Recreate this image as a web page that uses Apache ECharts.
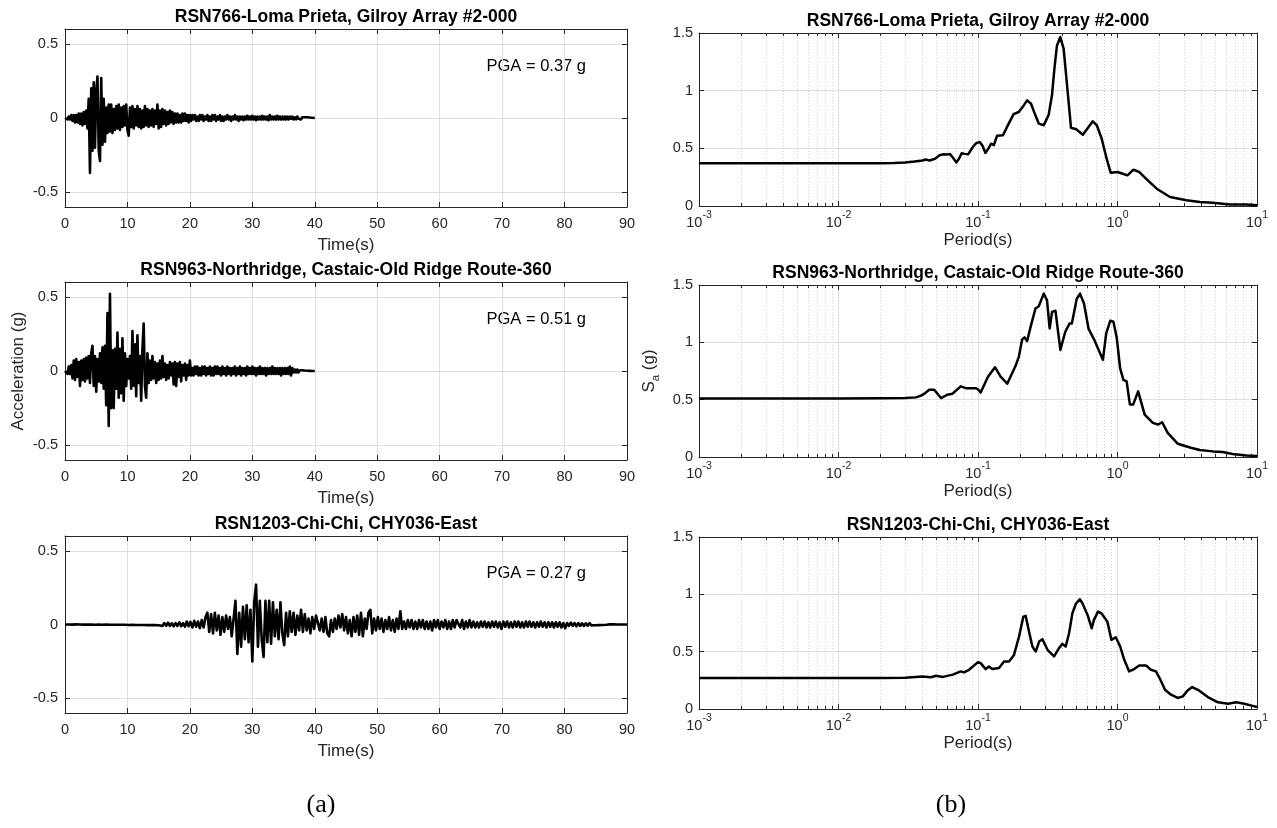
<!DOCTYPE html>
<html><head><meta charset="utf-8">
<script src="https://cdn.jsdelivr.net/npm/echarts@6/dist/echarts.min.js"></script>
<style>html,body{margin:0;padding:0;background:#fff}#c{width:1277px;height:828px}</style>
</head><body><div id="c"></div>
<script>
// ---------------- DATA ----------------
const TITLES = [
  'RSN766-Loma Prieta, Gilroy Array #2-000',
  'RSN963-Northridge, Castaic-Old Ridge Route-360',
  'RSN1203-Chi-Chi, CHY036-East'
];
const PGA_LABELS = ['PGA = 0.37 g', 'PGA = 0.51 g', 'PGA = 0.27 g'];
const PANEL_LABELS = ['(a)', '(b)'];
const TIME_TICKS = [0, 10, 20, 30, 40, 50, 60, 70, 80, 90];
const ACC_TICKS = [-0.5, 0, 0.5];
const SA_TICKS = [0, 0.5, 1, 1.5];
const PERIOD_DECADES = [0.001, 0.01, 0.1, 1, 10];
const MINOR_MULT = [2, 3, 4, 5, 6, 7, 8, 9];
const TIME_STEP = [0.2, 0.2, 0.3];

// acceleration records (g), sampled every TIME_STEP seconds
const ACC_LOMA = [0,.01,-.01,.01,-.01,.02,-.02,.02,-.03,.02,-.03,
 .03,-.04,.03,-.05,.04,-.04,.05,-.07,.13,
 -.37,.2,-.22,.24,-.2,.18,.28,-.22,-.29,.27,-.18,.13,-.16,.07,-.1,.09,-.09,.09,-.1,.06,-.08,
 .08,-.07,.09,-.08,.07,-.06,.08,-.05,.09,-.08,
 -.12,.07,-.06,.08,-.07,.06,-.05,.08,-.06,.06,
 -.07,.05,-.06,.08,-.05,.06,-.06,.05,-.05,.06,
 -.06,.05,-.04,.09,-.07,.05,-.06,.06,-.04,.05,
 -.05,.04,-.04,.05,-.03,.04,-.04,.03,-.03,.03,
 -.03,.02,-.03,.03,-.02,.03,-.02,.02,-.03,.02,
 -.02,.02,-.01,.02,-.02,.01,-.02,.02,-.01,.02,-.02,.01,-.01,.02,-.02,.01,-.02,.02,-.01,.02,
 -.02,.01,-.01,.02,-.02,.01,-.02,.01,-.01,.02,-.01,.01,-.02,.01,-.01,.02,-.01,.01,-.02,.01,
 -.01,.01,-.015,.01,-.01,.015,-.01,.01,-.01,.015,-.01,.01,-.015,.01,-.01,.01,-.01,.015,-.01,.01,
 -.01,.01,-.015,.02,-.01,.01,-.01,.01,-.01,.015,-.01,.01,-.01,.01,-.01,.01,-.01,.01,-.01,.01,
 -.005,.01,-.01,.005,-.01,.01,-.005,.005,-.01,.005,
 -.005,.005,-.005,.005,-.003,.003,-.002,.002,-.001,0];

const ACC_NORTH = [0,.01,-.02,.03,-.02,.04,
 -.05,.07,-.06,.08,-.04,.06,-.1,.07,-.06,.08,-.07,.09,-.05,.1,-.08,
 .12,.17,-.1,.1,-.14,.08,-.07,.12,-.08,.16,
 -.12,.17,-.23,.39,-.37,.52,-.25,.14,-.25,.15,
 -.12,.26,-.18,.15,-.15,.22,-.2,.12,-.1,.08,
 -.05,.1,-.12,.27,-.1,.18,-.17,.24,-.08,.1,
 -.2,.15,.32,-.1,-.18,.12,-.08,.07,-.06,.1,
 -.05,.06,-.08,.05,-.06,.07,-.05,.1,-.04,.05,
 -.06,.04,-.05,.06,-.03,.05,-.09,.06,-.1,.05,
 -.04,.06,-.07,.04,-.03,.05,-.06,.04,-.03,.07,
 -.03,.02,-.03,.03,-.02,.03,-.03,.02,-.03,.03,-.02,.03,-.03,.02,-.02,.03,-.03,.02,-.03,.03,
 -.02,.03,-.02,.02,-.03,.03,-.02,.02,-.03,.03,-.02,.02,-.03,.02,-.02,.03,-.03,.02,-.02,.03,
 -.03,.02,-.02,.02,-.03,.03,-.02,.02,-.02,.03,
 -.02,.02,-.03,.02,-.02,.03,-.02,.02,-.02,.02,-.03,.02,-.02,.02,-.02,.03,-.02,.02,-.02,.02,
 -.02,.02,-.03,.02,-.02,.02,-.02,.02,-.02,.03,-.03,.02,-.01,.01,-.01,
 .01,-.01,.005,-.005,.005,-.005,.003,-.003,.002,-.002,.001,-.001,0,0,0];

const ACC_CHICHI = [0,0,0,.001,-.001,0,.001,-.001,0,.001,-.001,.001,-.001,.002,-.001,.001,-.002,.002,-.001,.001,
 -.002,.002,-.001,.002,-.002,.001,-.002,.002,-.002,.002,-.002,.003,-.002,.002,-.003,.003,-.002,.003,-.003,.002,
 -.003,.004,-.003,.003,-.004,.004,-.003,.005,-.004,.004,-.005,
 .008,-.01,.01,-.008,.012,-.01,.008,-.012,.01,-.01,.015,-.012,.01,-.015,.02,-.012,
 .018,-.02,.025,-.015,.02,-.025,.03,-.02,
 .05,.08,-.05,.07,-.06,.08,-.04,.06,-.07,.05,-.05,.06,-.03,.05,-.08,.04,
 .16,-.2,.08,-.15,.12,-.1,.13,-.12,.1,-.25,.15,.27,-.15,.16,-.1,-.22,.16,-.12,.16,-.13,.15,-.08,.1,-.1,.15,-.06,-.14,
 .08,-.08,.09,-.05,.08,-.07,.06,-.04,.1,-.05,.07,-.04,.04,-.06,.05,-.03,.06,
 .05,-.04,.04,-.05,.05,-.06,-.08,.03,-.05,.04,-.03,.06,-.02,.07,-.04,.05,-.06,.03,-.08,.05,
 -.05,.06,-.07,.08,-.08,.04,-.03,.08,.1,-.06,.04,-.04,.05,-.03,.04,-.05,.03,-.03,.05,-.04,
 .03,-.05,.04,-.03,.09,-.03,
 .02,-.03,.03,-.02,.03,-.03,.02,-.03,.03,-.02,.03,-.03,.02,-.03,.02,-.04,.03,-.02,.03,-.03,
 .02,-.02,.03,-.03,.02,-.03,.03,-.02,.03,.04,-.02,.03,-.03,.02,-.02,.03,
 -.02,.02,-.02,.015,-.02,.02,-.015,.02,-.02,.015,-.02,.02,-.015,.02,-.02,.015,-.03,.02,-.015,.02,
 -.02,.015,-.02,.02,-.015,.02,-.02,.015,-.02,.02,-.015,.02,-.015,.015,-.02,.015,-.015,.02,-.015,.015,
 -.02,.015,-.015,.015,-.02,.015,-.015,.015,-.02,.01,
 -.025,.01,-.01,.012,-.01,.01,-.012,.01,-.01,.008,-.01,.008,-.008,.01,-.006,.006,-.005,.005,-.004,.004,-.003,.003,-.002,.002,
 .001,-.001,.001,-.001,0,0,0,0,0,0];

// response spectra: period (s) and Sa (g)
const PERIOD_LOMA = [0.001,0.01,0.02,0.025,0.03,0.035,0.04,0.042,0.045,0.048,0.05,0.053,0.056,0.06,0.063,0.066,0.07,0.073,0.0765,0.08,0.085,0.091,0.097,0.103,0.108,0.113,0.119,0.124,0.13,0.137,0.151,0.166,0.18,0.196,0.212,0.225,0.24,0.258,0.273,0.296,0.321,0.339,0.353,0.368,0.389,0.411,0.435,0.464,0.506,0.565,0.62,0.665,0.711,0.77,0.836,0.893,1.0,1.09,1.18,1.3,1.43,1.62,1.91,2.38,3.12,3.89,4.83,6.36,8.4,10];
const SA_LOMA = [.37,.37,.37,.372,.378,.385,.395,.403,.395,.405,.415,.44,.448,.446,.45,.42,.378,.41,.458,.452,.448,.505,.545,.555,.52,.46,.5,.54,.527,.61,.613,.714,.797,.815,.87,.916,.887,.786,.714,.70,.79,.96,1.19,1.39,1.465,1.364,1.046,.679,.665,.618,.685,.734,.70,.584,.41,.289,.295,.28,.266,.315,.295,.231,.15,.078,.049,.035,.029,.014,.012,.006];

const PERIOD_NORTH = [0.001,0.01,0.02,0.03,0.036,0.039,0.041,0.0447,0.0485,0.0543,0.0604,0.0655,0.0752,0.0817,0.0962,0.1,0.1045,0.1179,0.1323,0.1452,0.162,0.186,0.1963,0.2074,0.2155,0.2251,0.24,0.2581,0.2727,0.2959,0.3124,0.3263,0.3394,0.3592,0.3894,0.4224,0.4534,0.4707,0.5105,0.5387,0.5751,0.6198,0.6913,0.7857,0.83,0.8867,0.9354,0.9891,1.044,1.102,1.163,1.227,1.295,1.406,1.566,1.793,1.95,2.09,2.29,2.7,3.36,3.89,4.83,5.68,6.68,8.4,10];
const SA_NORTH = [.51,.51,.512,.515,.52,.535,.55,.587,.587,.514,.543,.552,.616,.60,.60,.59,.563,.70,.783,.70,.639,.795,.876,1.026,1.043,1.011,1.15,1.295,1.315,1.425,1.367,1.121,1.266,1.275,.934,1.092,1.165,1.165,1.38,1.425,1.338,1.12,1.006,.847,1.078,1.188,1.18,1.035,.775,.673,.659,.457,.457,.572,.37,.298,.283,.303,.21,.116,.081,.061,.049,.043,.026,.014,.008];

const PERIOD_CHICHI = [0.001,0.01,0.02,0.03,0.04,0.046,0.05,0.056,0.066,0.0751,0.0794,0.0862,0.1,0.1045,0.1135,0.1199,0.1267,0.1415,0.1536,0.1669,0.1812,0.1969,0.2115,0.2197,0.2321,0.2454,0.2594,0.2742,0.2898,0.3148,0.3509,0.3807,0.4024,0.4253,0.4495,0.475,0.502,0.5363,0.5605,0.6099,0.6536,0.6781,0.7245,0.7661,0.8461,0.9044,0.9722,1.045,1.118,1.212,1.317,1.433,1.6,1.735,1.887,2.03,2.19,2.42,2.7,2.94,3.18,3.43,3.84,4.44,5.25,6.2,7.1,8.1,9.6,10];
const SA_CHICHI = [.27,.27,.27,.272,.283,.277,.29,.28,.30,.328,.319,.342,.409,.40,.348,.371,.348,.357,.414,.414,.472,.632,.806,.812,.675,.545,.501,.588,.609,.516,.458,.53,.568,.545,.661,.835,.916,.957,.922,.82,.704,.777,.849,.835,.762,.603,.626,.545,.429,.328,.348,.38,.38,.342,.328,.255,.168,.125,.096,.11,.162,.191,.162,.104,.058,.046,.058,.046,.023,.017];

// ---------------- CHART ----------------
const ACC = [ACC_LOMA, ACC_NORTH, ACC_CHICHI];
const PER = [PERIOD_LOMA, PERIOD_NORTH, PERIOD_CHICHI];
const SA = [SA_LOMA, SA_NORTH, SA_CHICHI];

const FONT = '"Liberation Sans", Arial, Helvetica, sans-serif';
const AX = '#262626';
const GRIDC = '#dfdfdf';
const MINORC = '#d2d2d2';

const LEFT_GRIDS = [
  {left: 65, top: 29, width: 562, height: 178},
  {left: 65, top: 282, width: 562, height: 178},
  {left: 65, top: 536, width: 562, height: 177}
];
const RIGHT_GRIDS = [
  {left: 699, top: 33, width: 558, height: 173},
  {left: 699, top: 285, width: 558, height: 172},
  {left: 699, top: 537, width: 558, height: 172}
];

const grids = [], xAxes = [], yAxes = [], series = [], graphics = [];
const tickLabel = {color: AX, fontFamily: FONT, fontSize: 14.5};

function boxAxisCommon() {
  return {
    axisLine: {show: true, onZero: false, lineStyle: {color: AX, width: 1}},
    axisTick: {show: true, inside: true, length: 5, lineStyle: {color: AX, width: 1}},
  };
}

const minorVals = [];
PERIOD_DECADES.slice(0, -1).forEach(d => MINOR_MULT.forEach(m => minorVals.push([+(d * m).toPrecision(3), 0])));

for (let r = 0; r < 3; r++) {
  // ---------- left: time history ----------
  const gL = grids.length;
  grids.push(Object.assign({outerBoundsMode: 'none', containLabel: false}, LEFT_GRIDS[r]));
  const xb = xAxes.length;
  xAxes.push(Object.assign(boxAxisCommon(), {
    gridIndex: gL, type: 'value', min: TIME_TICKS[0], max: TIME_TICKS[TIME_TICKS.length - 1], interval: 10,
    name: 'Time(s)', nameLocation: 'middle', nameGap: 30, nameMoveOverlap: false,
    nameTextStyle: {color: AX, fontFamily: FONT, fontSize: 17},
    axisLabel: Object.assign({margin: 9, showMinLabel: true, showMaxLabel: true}, tickLabel),
    splitLine: {show: true, lineStyle: {color: GRIDC, width: 1}}
  }));
  xAxes.push(Object.assign(boxAxisCommon(), {
    gridIndex: gL, type: 'value', position: 'top', min: 0, max: 90, interval: 10,
    axisLabel: {show: false}, splitLine: {show: false}
  }));
  const yb = yAxes.length;
  yAxes.push(Object.assign(boxAxisCommon(), {
    gridIndex: gL, type: 'value', min: -0.6, max: 0.6,
    name: r === 1 ? 'Acceleration (g)' : '', nameLocation: 'middle', nameGap: 38, nameRotate: 90, nameMoveOverlap: false,
    nameTextStyle: {color: AX, fontFamily: FONT, fontSize: 17},
    axisLabel: Object.assign({margin: 7, customValues: ACC_TICKS}, tickLabel),
    axisTick: {show: true, inside: true, length: 5, customValues: ACC_TICKS, lineStyle: {color: AX}},
    splitLine: {show: true, lineStyle: {color: GRIDC, width: 1}}
  }));
  yAxes.push(Object.assign(boxAxisCommon(), {
    gridIndex: gL, type: 'value', position: 'right', min: -0.6, max: 0.6,
    axisLabel: {show: false, customValues: ACC_TICKS},
    axisTick: {show: true, inside: true, length: 5, customValues: ACC_TICKS, lineStyle: {color: AX}},
    splitLine: {show: false}
  }));
  const dt = TIME_STEP[r];
  series.push({
    type: 'line', xAxisIndex: xb, yAxisIndex: yb, z: 5,
    data: ACC[r].map((v, i) => [+(i * dt).toFixed(2), v]),
    showSymbol: false, symbol: 'none', sampling: null, animation: false,
    lineStyle: {color: '#000', width: 2.6, join: 'round'}
  });

  // ---------- right: response spectrum ----------
  const gR = grids.length;
  grids.push(Object.assign({outerBoundsMode: 'none', containLabel: false}, RIGHT_GRIDS[r]));
  const xr = xAxes.length;
  xAxes.push(Object.assign(boxAxisCommon(), {
    gridIndex: gR, type: 'log', logBase: 10, min: PERIOD_DECADES[0], max: PERIOD_DECADES[PERIOD_DECADES.length - 1],
    name: 'Period(s)', nameLocation: 'middle', nameGap: 26, nameMoveOverlap: false,
    nameTextStyle: {color: AX, fontFamily: FONT, fontSize: 17},
    axisLabel: {
      margin: 3.5, showMinLabel: true, showMaxLabel: true,
      formatter: v => '{b|10}{s|' + Math.round(Math.log10(v)) + '}',
      rich: {
        b: {color: AX, fontFamily: FONT, fontSize: 14.5, lineHeight: 27},
        s: {color: AX, fontFamily: FONT, fontSize: 10.5, verticalAlign: 'top'}
      }
    },
    minorTick: {show: false}, minorSplitLine: {show: false},
    splitLine: {show: true, lineStyle: {color: GRIDC, width: 1}}
  }));
  xAxes.push(Object.assign(boxAxisCommon(), {
    gridIndex: gR, type: 'log', logBase: 10, position: 'top', min: 0.001, max: 10,
    axisLabel: {show: false}, splitLine: {show: false}
  }));
  const yr = yAxes.length;
  yAxes.push(Object.assign(boxAxisCommon(), {
    gridIndex: gR, type: 'value', min: SA_TICKS[0], max: SA_TICKS[SA_TICKS.length - 1], interval: 0.5,
    name: r === 1 ? '{m|S}{sub|a}{m| (g)}' : '', nameLocation: 'middle', nameGap: 37, nameRotate: 90, nameMoveOverlap: false,
    nameTextStyle: {
      rich: {
        m: {color: AX, fontFamily: FONT, fontSize: 17, lineHeight: 26},
        sub: {color: AX, fontFamily: FONT, fontSize: 11.5, lineHeight: 12, verticalAlign: 'bottom'}
      }
    },
    axisLabel: Object.assign({margin: 6}, tickLabel),
    splitLine: {show: true, lineStyle: {color: GRIDC, width: 1}}
  }));
  yAxes.push(Object.assign(boxAxisCommon(), {
    gridIndex: gR, type: 'value', position: 'right', min: 0, max: 1.5, interval: 0.5,
    axisLabel: {show: false}, splitLine: {show: false}
  }));
  const yMin = SA_TICKS[0], yMax = SA_TICKS[SA_TICKS.length - 1];
  series.push({
    type: 'custom', xAxisIndex: xr, yAxisIndex: yr, z: 1, silent: true, animation: false,
    data: minorVals,
    encode: {x: 0, y: 1},
    renderItem: function (params, api) {
      const v = api.value(0);
      const b = api.coord([v, yMin]);
      const t = api.coord([v, yMax]);
      const x = Math.round(b[0]) + 0.5;
      return {type: 'group', children: [
        {type: 'line', shape: {x1: x, y1: b[1], x2: x, y2: t[1]}, style: {stroke: MINORC, lineWidth: 1, lineDash: [1, 2]}},
        {type: 'line', shape: {x1: x, y1: b[1], x2: x, y2: b[1] - 3}, style: {stroke: AX, lineWidth: 1}},
        {type: 'line', shape: {x1: x, y1: t[1], x2: x, y2: t[1] + 3}, style: {stroke: AX, lineWidth: 1}}
      ]};
    }
  });
  series.push({
    type: 'line', xAxisIndex: xr, yAxisIndex: yr, z: 5,
    data: PER[r].map((p, i) => [p, SA[r][i]]),
    showSymbol: false, symbol: 'none', animation: false,
    lineStyle: {color: '#000', width: 2.5, join: 'round'}
  });

  // ---------- titles & PGA ----------
  const lg = LEFT_GRIDS[r], rg = RIGHT_GRIDS[r];
  graphics.push({type: 'text', x: lg.left + lg.width / 2, y: lg.top - 11.5,
    style: {text: TITLES[r], fill: '#000', font: 'bold 17.5px ' + FONT, textAlign: 'center', textVerticalAlign: 'middle'}});
  graphics.push({type: 'text', x: rg.left + rg.width / 2, y: rg.top - 11.5,
    style: {text: TITLES[r], fill: '#000', font: 'bold 17.5px ' + FONT, textAlign: 'center', textVerticalAlign: 'middle'}});
  graphics.push({type: 'text', x: lg.left + 421.5, y: lg.top + 37.5,
    style: {text: PGA_LABELS[r], fill: '#000', font: '16.5px ' + FONT, textAlign: 'left', textVerticalAlign: 'middle'}});
}
graphics.push({type: 'text', x: 321, y: 805,
  style: {text: PANEL_LABELS[0], fill: '#000', font: '26px "Liberation Serif", "DejaVu Serif", serif', textAlign: 'center', textVerticalAlign: 'middle'}});
graphics.push({type: 'text', x: 951, y: 805,
  style: {text: PANEL_LABELS[1], fill: '#000', font: '26px "Liberation Serif", "DejaVu Serif", serif', textAlign: 'center', textVerticalAlign: 'middle'}});

const chart = echarts.init(document.getElementById('c'), null, {renderer: 'canvas'});
chart.setOption({
  backgroundColor: '#fff',
  animation: false,
  grid: grids,
  xAxis: xAxes,
  yAxis: yAxes,
  series: series,
  graphic: graphics
});
</script>
</body></html>
